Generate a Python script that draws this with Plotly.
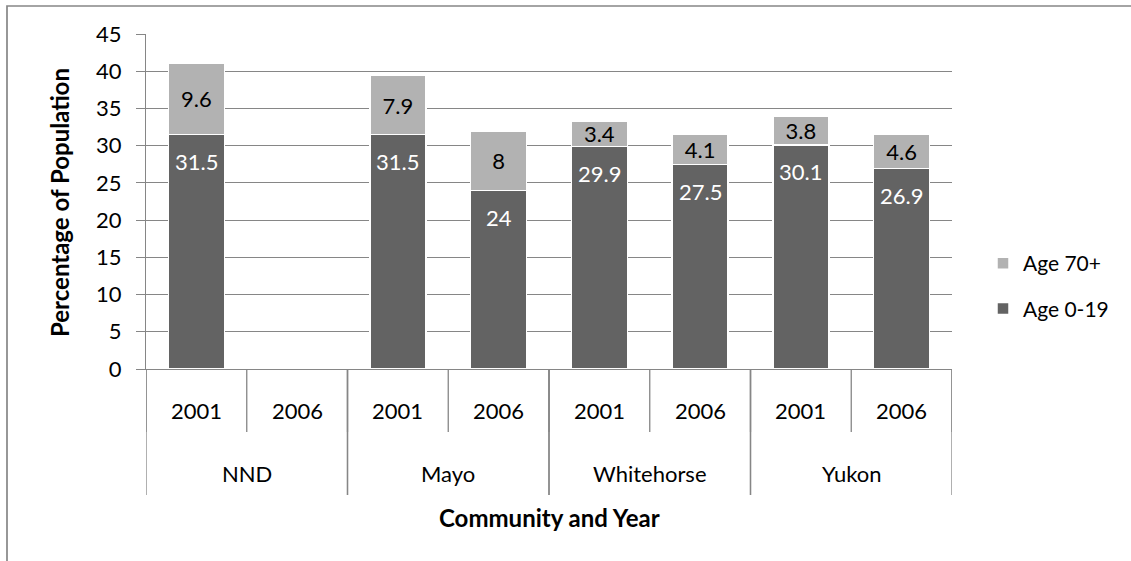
import plotly.graph_objects as go

# ---------------- data ----------------
communities = ["NND", "NND", "Mayo", "Mayo", "Whitehorse", "Whitehorse", "Yukon", "Yukon"]
years = ["2001", "2006", "2001", "2006", "2001", "2006", "2001", "2006"]
age_0_19 = [31.5, None, 31.5, 24, 29.9, 27.5, 30.1, 26.9]
age_70 = [9.6, None, 7.9, 8, 3.4, 4.1, 3.8, 4.6]
y_ticks = [0, 5, 10, 15, 20, 25, 30, 35, 40, 45]

# ---------------- layout constants ----------------
W, H = 1131, 561
PL, PT, PW, PH = 146, 34, 806, 335
FONT = "Lato"
FS = 22
TFS = 24
GRID = "#868686"
DARK = "#636363"
LIGHT = "#b2b2b2"


def pxx(px):
    return (px - PL) / PW


def pxy(py):
    return (PT + PH - py) / PH


n = len(years)
xs = list(range(n))


def fmt(v):
    return "" if v is None else f"{v:g}"


fig = go.Figure()
fig.add_trace(go.Bar(
    x=xs, y=age_0_19, name="Age 0-19", legendgroup="a", legendrank=2,
    marker=dict(color=DARK, line=dict(color="white", width=1.5)),
    hoverinfo="skip",
))
fig.add_trace(go.Bar(
    x=xs, y=age_70, name="Age 70+", legendgroup="b", legendrank=1,
    marker=dict(color=LIGHT, line=dict(color="white", width=1.5)),
    text=[fmt(v) for v in age_70], textposition="inside",
    insidetextanchor="middle", constraintext="none",
    textfont=dict(color="black", size=FS, family=FONT),
    hoverinfo="skip",
))

annotations = []
# dark-segment labels (placed near the top of each segment)
for i, v in enumerate(age_0_19):
    if v is None:
        continue
    annotations.append(dict(
        x=i, y=v, xref="x", yref="y", text=fmt(v), showarrow=False,
        yshift=-27, yanchor="middle",
        font=dict(color="white", size=FS, family=FONT),
    ))

shapes = []
# year labels and separators
for i, yr in enumerate(years):
    annotations.append(dict(
        x=i, y=0, xref="x", yref="paper", text=yr, showarrow=False,
        yshift=-41, yanchor="middle", font=dict(color="black", size=FS, family=FONT),
    ))
for b in range(n + 1):
    shapes.append(dict(type="line", xref="x", yref="paper", x0=b - 0.5, x1=b - 0.5,
                       y0=0, y1=-63 / PH, line=dict(color=GRID, width=1.3)))
# group labels and separators
groups = []
for i, c in enumerate(communities):
    if not groups or groups[-1][0] != c:
        groups.append([c, i, i])
    else:
        groups[-1][2] = i
for c, s, e in groups:
    annotations.append(dict(
        x=(s + e) / 2, y=0, xref="x", yref="paper", text=c, showarrow=False,
        yshift=-104, yanchor="middle", font=dict(color="black", size=FS, family=FONT),
    ))
    for b in (s - 0.5, e + 0.5):
        shapes.append(dict(type="line", xref="x", yref="paper", x0=b, x1=b,
                           y0=0, y1=-126 / PH, line=dict(color=GRID, width=1.3)))

# axis titles
annotations.append(dict(
    x=0.5, y=0, xref="paper", yref="paper", text="<b>Community and Year</b>",
    showarrow=False, yshift=-148, yanchor="middle",
    font=dict(color="black", size=TFS, family=FONT),
))
annotations.append(dict(
    x=pxx(59), y=pxy(203), xref="paper", yref="paper", text="<b>Percentage of Population</b>",
    showarrow=False, textangle=-90, xanchor="center", yanchor="middle",
    font=dict(color="black", size=TFS, family=FONT),
))

# outer chart border (right and bottom edges fall outside the picture)
shapes.append(dict(type="rect", xref="paper", yref="paper",
                   x0=pxx(7), x1=pxx(W + 30), y0=pxy(6), y1=pxy(H + 30),
                   line=dict(color=GRID, width=1.7), fillcolor="rgba(0,0,0,0)"))

fig.update_layout(
    width=W, height=H,
    margin=dict(l=PL, r=W - PL - PW, t=PT, b=H - PT - PH),
    paper_bgcolor="white", plot_bgcolor="white",
    barmode="stack", bargap=0.444,
    font=dict(family=FONT, size=FS, color="black"),
    uniformtext=dict(minsize=FS, mode="show"),
    showlegend=True,
    legend=dict(
        x=pxx(983), y=pxy(243), xanchor="left", yanchor="top",
        traceorder="grouped", tracegroupgap=15,
        font=dict(family=FONT, size=21, color="black"),
        bgcolor="rgba(0,0,0,0)",
    ),
    xaxis=dict(range=[-0.5, n - 0.5], showticklabels=False, showgrid=False,
               zeroline=False, showline=True, linecolor=GRID, linewidth=1.3,
               ticks="", fixedrange=True),
    yaxis=dict(range=[0, 45], tickvals=y_ticks, showgrid=True, gridcolor=GRID,
               gridwidth=1.3, zeroline=False, showline=True, linecolor=GRID,
               linewidth=1.3, ticks="outside", ticklen=9, tickcolor=GRID,
               tickwidth=1.3, ticklabelstandoff=10,
               tickfont=dict(family=FONT, size=FS, color="black")),
    annotations=annotations,
    shapes=shapes,
)

fig.write_html("out.html")
